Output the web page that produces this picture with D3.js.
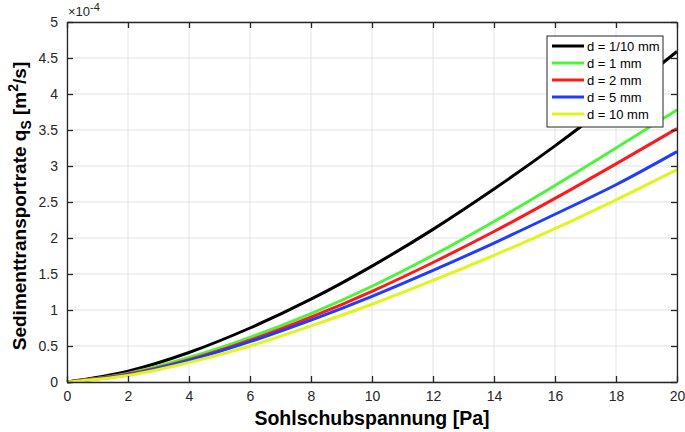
<!DOCTYPE html>
<html>
<head>
<meta charset="utf-8">
<script src="https://cdn.jsdelivr.net/npm/d3@7"></script>
<style>
  body { margin: 0; background: #fff; }
  svg text { font-family: "Liberation Sans", Arial, sans-serif; }
</style>
</head>
<body>
<div id="chart"></div>
<script>
// Shear stress values [Pa]
const tau = [0, 2, 4, 6, 8, 10, 12, 14, 16, 18, 20];

// Sediment transport rate, units of 1e-4 m^2/s
const qFine = [0, 0.15, 0.41, 0.75, 1.15, 1.61, 2.12, 2.68, 3.28, 3.92, 4.59];
const q1mm = [0, 0.12, 0.34, 0.62, 0.95, 1.33, 1.76, 2.23, 2.73, 3.25, 3.78];
const q2mm = [0, 0.11, 0.31, 0.58, 0.90, 1.26, 1.66, 2.09, 2.55, 3.03, 3.52];
const q5mm = [0, 0.10, 0.30, 0.56, 0.86, 1.19, 1.55, 1.93, 2.33, 2.74, 3.20];
const q10mm = [0, 0.09, 0.27, 0.50, 0.78, 1.08, 1.41, 1.76, 2.13, 2.53, 2.95];

const seriesNames = ["d = 1/10 mm", "d = 1 mm", "d = 2 mm", "d = 5 mm", "d = 10 mm"];
const seriesColors = ["#000000", "#4cf53a", "#ff1a1a", "#1f3cff", "#dff51c"];
const seriesValues = [qFine, q1mm, q2mm, q5mm, q10mm];

const xTicks = [0, 2, 4, 6, 8, 10, 12, 14, 16, 18, 20];
const yTicks = [0, 0.5, 1, 1.5, 2, 2.5, 3, 3.5, 4, 4.5, 5];

const width = 685, height = 432;
const margin = { top: 22, right: 8, bottom: 50, left: 67 };

const svg = d3.select("#chart").append("svg")
    .attr("width", width)
    .attr("height", height);

const x = d3.scaleLinear().domain([0, 20]).range([margin.left, width - margin.right]);
const y = d3.scaleLinear().domain([0, 5]).range([height - margin.bottom, margin.top]);

// Grid lines
svg.append("g")
    .selectAll("line.vg")
    .data(xTicks)
    .enter().append("line")
    .attr("x1", d => x(d)).attr("x2", d => x(d))
    .attr("y1", y(0)).attr("y2", y(5))
    .attr("stroke", "#e3e3e3").attr("stroke-width", 1);

svg.append("g")
    .selectAll("line.hg")
    .data(yTicks)
    .enter().append("line")
    .attr("x1", x(0)).attr("x2", x(20))
    .attr("y1", d => y(d)).attr("y2", d => y(d))
    .attr("stroke", "#e3e3e3").attr("stroke-width", 1);

// Curves
const line = d3.line()
    .x((d, i) => x(tau[i]))
    .y(d => y(d))
    .curve(d3.curveMonotoneX);

seriesValues.forEach((vals, i) => {
    svg.append("path")
        .datum(vals)
        .attr("fill", "none")
        .attr("stroke", seriesColors[i])
        .attr("stroke-width", 3)
        .attr("d", line);
});

// Axes with inward ticks, on all four sides
const axisColor = "#262626";
const styleAxis = g => {
    g.select(".domain").attr("stroke", axisColor).attr("stroke-width", 1.3);
    g.selectAll(".tick line").attr("stroke", axisColor).attr("stroke-width", 1.3);
    g.selectAll("text").attr("fill", "#262626").style("font-size", "14px");
};

svg.append("g")
    .attr("transform", `translate(0,${y(0)})`)
    .call(d3.axisBottom(x).tickValues(xTicks).tickSize(-6).tickPadding(9).tickSizeOuter(0))
    .call(styleAxis);

svg.append("g")
    .attr("transform", `translate(0,${y(5)})`)
    .call(d3.axisTop(x).tickValues(xTicks).tickSize(-6).tickFormat("").tickSizeOuter(0))
    .call(styleAxis);

svg.append("g")
    .attr("transform", `translate(${x(0)},0)`)
    .call(d3.axisLeft(y).tickValues(yTicks).tickSize(-6).tickPadding(9).tickSizeOuter(0)
        .tickFormat(d => d3.format("")(d)))
    .call(styleAxis);

svg.append("g")
    .attr("transform", `translate(${x(20)},0)`)
    .call(d3.axisRight(y).tickValues(yTicks).tickSize(-6).tickFormat("").tickSizeOuter(0))
    .call(styleAxis);

// Exponent label
const expo = svg.append("text")
    .attr("x", x(0) + 1)
    .attr("y", 16)
    .attr("fill", "#262626")
    .style("font-size", "13px");
expo.append("tspan").text("\u00d710");
expo.append("tspan").attr("dy", -5).style("font-size", "11px").text("-4");

// Axis titles
svg.append("text")
    .attr("x", (x(0) + x(20)) / 2)
    .attr("y", 425)
    .attr("text-anchor", "middle")
    .style("font-size", "19.5px")
    .style("font-weight", "bold")
    .attr("fill", "#000")
    .text("Sohlschubspannung [Pa]");

const yl = svg.append("text")
    .attr("transform", `translate(26,${(y(0) + y(5)) / 2 + 4}) rotate(-90)`)
    .attr("text-anchor", "middle")
    .style("font-size", "19px")
    .style("font-weight", "bold")
    .attr("fill", "#000");
yl.append("tspan").text("Sedimenttransportrate q");
yl.append("tspan").attr("dy", 5).style("font-size", "14px").text("S");
yl.append("tspan").attr("dy", -5).text(" [m");
yl.append("tspan").attr("dy", -8).style("font-size", "14px").text("2");
yl.append("tspan").attr("dy", 8).text("/s]");

// Legend
const legend = svg.append("g").attr("transform", "translate(547,36)");
legend.append("rect")
    .attr("width", 116).attr("height", 91)
    .attr("fill", "#fff").attr("stroke", "#262626").attr("stroke-width", 1);

seriesNames.forEach((name, i) => {
    const row = legend.append("g").attr("transform", `translate(0,${10 + i * 17})`);
    row.append("line")
        .attr("x1", 5).attr("x2", 37)
        .attr("stroke", seriesColors[i]).attr("stroke-width", 3);
    row.append("text")
        .attr("x", 40).attr("y", 4.5)
        .style("font-size", "13px")
        .attr("fill", "#000")
        .text(name);
});
</script>
</body>
</html>
